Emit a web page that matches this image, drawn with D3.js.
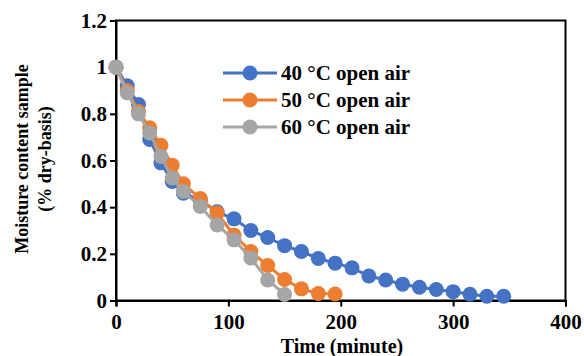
<!DOCTYPE html>
<html>
<head>
<meta charset="utf-8">
<script src="https://cdn.jsdelivr.net/npm/d3@7"></script>
<style>
  body { margin: 0; background: #fff; }
  text { font-family: "Liberation Serif", "Times New Roman", serif; font-weight: bold; fill: #000; }
</style>
</head>
<body>
<svg class="target"></svg>
<script>
// time (minute)
const time40 = [0, 10, 20, 30, 40, 50, 60, 75, 90, 105, 120, 135, 150, 165, 180, 195, 210, 225, 240, 255, 270, 285, 300, 315, 330, 345];
const moist40 = [1, 0.92, 0.84, 0.69, 0.59, 0.51, 0.46, 0.43, 0.38, 0.35, 0.30, 0.27, 0.235, 0.21, 0.18, 0.16, 0.14, 0.105, 0.088, 0.07, 0.057, 0.047, 0.038, 0.027, 0.018, 0.018];
const time50 = [0, 10, 20, 30, 40, 50, 60, 75, 90, 105, 120, 135, 150, 165, 180, 195];
const moist50 = [1, 0.9, 0.81, 0.74, 0.665, 0.58, 0.5, 0.437, 0.375, 0.28, 0.21, 0.15, 0.09, 0.05, 0.03, 0.028];
const time60 = [0, 10, 20, 30, 40, 50, 60, 75, 90, 105, 120, 135, 150];
const moist60 = [1, 0.89, 0.8, 0.718, 0.617, 0.525, 0.467, 0.403, 0.324, 0.26, 0.182, 0.088, 0.026];
const seriesNames = ["40 °C open air", "50 °C open air", "60 °C open air"];
const colors = ["#4472C4", "#ED7D31", "#A5A5A5"];
const xTicks = [0, 100, 200, 300, 400];
const yTicks = [0, 0.2, 0.4, 0.6, 0.8, 1, 1.2];

document.addEventListener("DOMContentLoaded", function() {
    drawChart();
});

function drawChart() {
    const width = 584;
    const height = 356;
    const svg = d3.select(".target")
        .attr("width", width)
        .attr("height", height);

    const x = d3.scaleLinear().domain([0, 400]).range([116, 565.5]);
    const y = d3.scaleLinear().domain([0, 1.2]).range([300.5, 20.5]);

    const series = [
        { name: seriesNames[0], color: colors[0], pts: time40.map((t, i) => [t, moist40[i]]) },
        { name: seriesNames[1], color: colors[1], pts: time50.map((t, i) => [t, moist50[i]]) },
        { name: seriesNames[2], color: colors[2], pts: time60.map((t, i) => [t, moist60[i]]) }
    ];

    // frame
    svg.append("rect")
        .attr("x", x(0)).attr("y", y(1.2))
        .attr("width", x(400) - x(0)).attr("height", y(0) - y(1.2))
        .attr("fill", "none").attr("stroke", "#000").attr("stroke-width", 2);

    // axes
    const xAxis = svg.append("g")
        .attr("transform", "translate(0," + y(0) + ")")
        .call(d3.axisBottom(x).tickValues(xTicks).tickSize(6).tickFormat(d3.format("d")));
    const yAxis = svg.append("g")
        .attr("transform", "translate(" + x(0) + ",0)")
        .call(d3.axisLeft(y).tickValues(yTicks).tickSize(6).tickPadding(3).tickFormat(d => d3.format("")(+d.toFixed(1))));
    [xAxis, yAxis].forEach(function(g) {
        g.select(".domain").attr("stroke", "#000").attr("stroke-width", 2);
        g.selectAll(".tick line").attr("stroke", "#000").attr("stroke-width", 2);
        g.selectAll(".tick text")
            .style("font-family", "'Liberation Serif', serif")
            .style("font-weight", "bold")
            .style("font-size", "21px")
            .attr("fill", "#000");
    });
    xAxis.selectAll(".tick text").attr("dy", null).attr("y", 28);

    // lines & markers
    const line = d3.line().x(d => x(d[0])).y(d => y(d[1]));
    series.forEach(function(s) {
        const g = svg.append("g");
        g.append("path")
            .datum(s.pts)
            .attr("d", line)
            .attr("fill", "none")
            .attr("stroke", s.color)
            .attr("stroke-width", 3);
        g.selectAll("circle")
            .data(s.pts)
            .enter()
            .append("circle")
            .attr("cx", d => x(d[0]))
            .attr("cy", d => y(d[1]))
            .attr("r", 7.5)
            .attr("fill", s.color);
    });

    // legend
    const legend = svg.append("g");
    series.forEach(function(s, i) {
        const ly = 73 + i * 27;
        legend.append("line")
            .attr("x1", 223).attr("x2", 277).attr("y1", ly).attr("y2", ly)
            .attr("stroke", s.color).attr("stroke-width", 3);
        legend.append("circle")
            .attr("cx", 250).attr("cy", ly).attr("r", 7.5).attr("fill", s.color);
        legend.append("text")
            .attr("x", 281).attr("y", ly + 7)
            .style("font-size", "21px")
            .text(s.name);
    });

    // axis titles
    svg.append("text")
        .attr("x", 342).attr("y", 353)
        .attr("text-anchor", "middle")
        .style("font-size", "20px")
        .text("Time (minute)");
    const yt = svg.append("text")
        .attr("transform", "translate(28,159) rotate(-90)")
        .attr("text-anchor", "middle")
        .style("font-size", "18px");
    yt.append("tspan").attr("x", 0).attr("y", 0).text("Moisture content sample");
    yt.append("tspan").attr("x", 0).attr("y", 23).text("(% dry-basis)");
}
</script>
</body>
</html>
